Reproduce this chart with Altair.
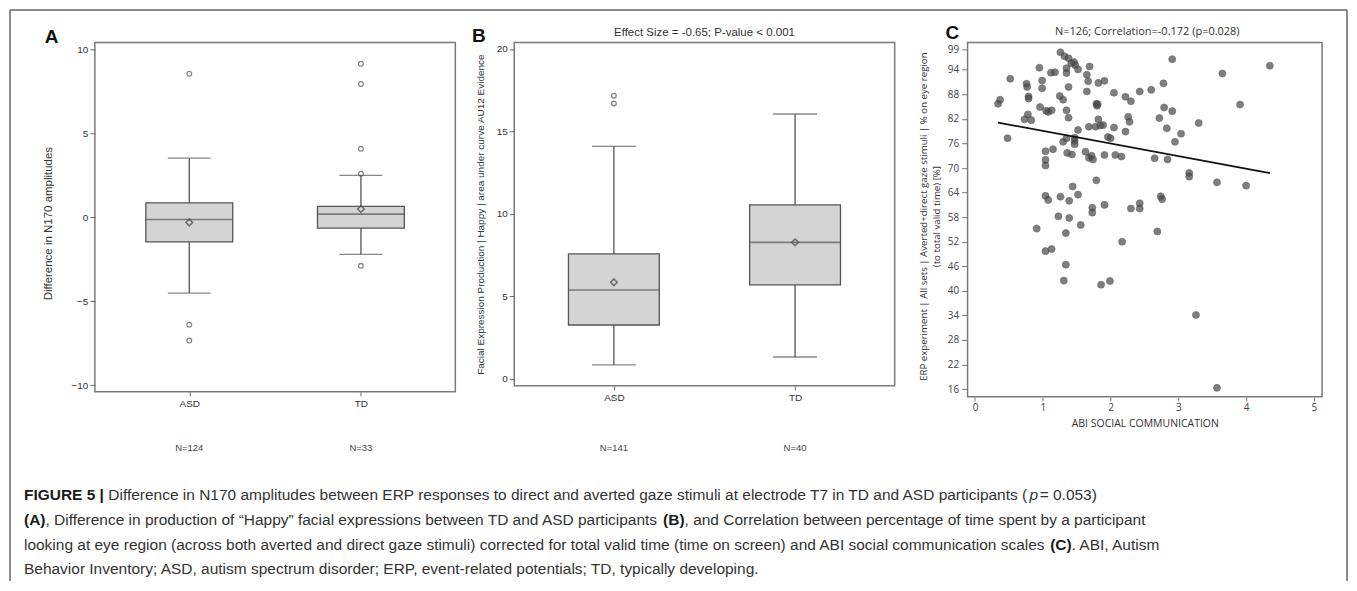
import altair as alt
import pandas as pd

# ---------------- data ----------------
groups = ["ASD", "TD"]

# Panel A: N170 amplitude difference (box summary)
a_q1 = [-1.47, -0.65]
a_med = [-0.14, 0.18]
a_q3 = [0.85, 0.64]
a_lo = [-4.52, -2.22]
a_hi = [3.51, 2.48]
a_mean = [-0.32, 0.48]
a_out_grp = ["ASD", "ASD", "ASD", "TD", "TD", "TD", "TD", "TD"]
a_out_val = [8.53, -6.41, -7.34, 9.13, 7.92, 4.07, 2.58, -2.90]
a_n = ["N=124", "N=33"]

# Panel B: Happy facial expression production
b_q1 = [3.27, 5.70]
b_med = [5.39, 8.28]
b_q3 = [7.58, 10.55]
b_lo = [0.85, 1.33]
b_hi = [14.10, 16.06]
b_mean = [5.86, 8.28]
b_out_grp = ["ASD", "ASD"]
b_out_val = [17.17, 16.70]
b_n = ["N=141", "N=40"]

# Panel C: ABI social communication vs % time on eye region
c_abi = [0.34, 0.37, 0.52, 0.48, 0.73, 0.78, 0.83, 0.76, 0.77, 0.79,
         0.79, 0.95, 0.99, 0.99, 0.96, 1.05, 1.08, 1.13, 1.12, 1.18,
         1.04, 1.04, 1.04, 1.15, 1.26, 1.32, 1.38, 1.46, 1.48, 1.52,
         1.35, 1.35, 1.25, 1.30, 1.38, 1.35, 1.38, 1.30, 1.35, 1.36,
         1.43, 1.47, 1.47, 1.47, 1.52, 1.69, 1.65, 1.67, 1.65, 1.79,
         1.80, 1.81, 1.82, 1.91, 1.68, 1.78, 1.82, 1.85, 1.89, 1.63,
         1.68, 1.72, 1.74, 1.79, 1.91, 1.96, 2.00, 2.05, 2.05, 2.07,
         2.16, 2.22, 2.30, 2.22, 2.26, 2.28, 2.43, 2.60, 2.65, 2.72,
         2.78, 2.79, 2.83, 2.84, 2.91, 2.91, 2.95, 3.04, 3.30, 3.16,
         3.16, 3.57, 3.65, 3.91, 4.00, 4.35, 1.04, 1.08, 1.26, 1.39,
         1.44, 1.52, 1.23, 1.39, 1.73, 1.73, 1.91, 2.30, 2.43, 2.43,
         2.74, 2.76, 0.91, 1.04, 1.13, 1.34, 1.34, 1.31, 1.56, 1.86,
         1.99, 2.17, 2.69, 3.26, 3.57, 1.42]
c_eye = [85.7, 86.7, 91.8, 77.3, 81.9, 83.1, 81.7, 90.6, 89.8, 87.5,
         87.0, 94.5, 91.4, 89.5, 84.9, 84.0, 83.7, 84.1, 93.3, 93.4,
         74.1, 72.0, 70.6, 74.6, 98.3, 97.3, 96.8, 95.9, 95.1, 94.1,
         94.4, 93.2, 87.6, 86.7, 89.8, 84.1, 82.3, 76.4, 77.3, 73.7,
         73.3, 77.4, 76.6, 75.8, 79.3, 94.8, 92.8, 91.2, 88.7, 85.7,
         85.2, 85.6, 90.8, 91.3, 80.1, 80.1, 81.9, 80.4, 80.5, 74.0,
         72.5, 73.0, 72.1, 67.0, 73.2, 77.6, 77.3, 79.9, 88.4, 73.2,
         72.8, 87.4, 86.3, 78.9, 82.5, 81.3, 88.7, 89.1, 72.4, 82.2,
         90.7, 84.8, 79.7, 72.1, 83.9, 96.6, 76.4, 78.4, 81.0, 68.8,
         67.9, 66.5, 93.1, 85.5, 65.7, 95.0, 63.2, 62.2, 63.0, 62.0,
         65.5, 63.5, 58.2, 57.8, 60.3, 59.1, 61.0, 60.1, 61.4, 60.1,
         63.1, 62.4, 55.2, 49.7, 50.2, 54.1, 46.4, 42.5, 56.1, 41.5,
         42.4, 52.0, 54.5, 34.1, 16.3, 95.6]

a_ticks = [-10, -5, 0, 5, 10]
b_ticks = [0, 5, 10, 15, 20]
c_xticks = [0, 1, 2, 3, 4, 5]
c_yticks = [16, 22, 28, 34, 40, 46, 52, 58, 64, 70, 76, 82, 88, 94, 99]

title_b = "Effect Size = -0.65; P-value < 0.001"
title_c = "N=126; Correlation=-0.172 (p=0.028)"
ytitle_a = "Difference in N170 amplitudes"
ytitle_b = "Facial Expression Production | Happy | area under curve AU12 Evidence"
ytitle_c = ["ERP experiment | All sets | Averted+direct gaze stimuli | % on eye region",
            "(to total valid time) [%]"]
xtitle_c = "ABI SOCIAL COMMUNICATION"

# caption: each line is a list of (text, style)
caption = [
    [("FIGURE 5 | ", "bold"),
     ("Difference in N170 amplitudes between ERP responses to direct and averted gaze stimuli at electrode T7 in TD and ASD participants (", "normal"),
     ("p", "italic"), (" = 0.053)", "normal")],
    [("(A)", "bold"),
     (", Difference in production of \u201cHappy\u201d facial expressions between TD and ASD participants ", "normal"),
     ("(B)", "bold"),
     (", and Correlation between percentage of time spent by a participant", "normal")],
    [("looking at eye region (across both averted and direct gaze stimuli) corrected for total valid time (time on screen) and ABI social communication scales ", "normal"),
     ("(C)", "bold"),
     (". ABI, Autism", "normal")],
    [("Behavior Inventory; ASD, autism spectrum disorder; ERP, event-related potentials; TD, typically developing.", "normal")],
]

# ---------------- layout constants ----------------
FONT = "Liberation Sans"
OX, OY = 93, 40.5          # page position of panel A plot origin
A_W, A_H = 361, 350
B_W, B_H = 381, 344
C_W, C_H = 355, 355
GAP_AB, GAP_BC = 59, 73
CAP_X = 22
CAP_FS = 15.5
CAP_BASE = [499, 524, 549, 573]
one = pd.DataFrame({"k": [0]})

# Arial / Liberation Sans advance widths (1/1000 em), used to chain caption segments
_REG = {' ': 278, '!': 278, '"': 355, '%': 889, '&': 667, "'": 191, '(': 333, ')': 333,
        '+': 584, ',': 278, '-': 333, '.': 278, '/': 278, ':': 278, ';': 278, '<': 584,
        '=': 584, '>': 584, '?': 556, '[': 278, ']': 278, '|': 260,
        'A': 667, 'B': 667, 'C': 722, 'D': 722, 'E': 667, 'F': 611, 'G': 778, 'H': 722,
        'I': 278, 'J': 500, 'K': 667, 'L': 556, 'M': 833, 'N': 722, 'O': 778, 'P': 667,
        'Q': 778, 'R': 722, 'S': 667, 'T': 611, 'U': 722, 'V': 667, 'W': 944, 'X': 667,
        'Y': 667, 'Z': 611, 'a': 556, 'b': 556, 'c': 500, 'd': 556, 'e': 556, 'f': 278,
        'g': 556, 'h': 556, 'i': 222, 'j': 222, 'k': 500, 'l': 222, 'm': 833, 'n': 556,
        'o': 556, 'p': 556, 'q': 556, 'r': 333, 's': 500, 't': 278, 'u': 556, 'v': 500,
        'w': 722, 'x': 500, 'y': 500, 'z': 500, '\u201c': 333, '\u201d': 333}
for _d in "0123456789":
    _REG[_d] = 556
_BOLD = {' ': 278, '(': 333, ')': 333, '|': 280, '5': 556, 'A': 722, 'B': 722, 'C': 722,
         'E': 667, 'F': 611, 'G': 778, 'I': 278, 'R': 722, 'U': 722}


def text_w(s, style, fs):
    tab = _BOLD if style == "bold" else _REG
    w = sum(tab.get(ch, 556) for ch in s) * fs / 1000.0
    if style == "italic":
        w += 1.5   # italic overhang
    return w


def txt(s, x, y, size, weight="normal", color="#333", align="left", baseline="alphabetic",
        font=FONT, style="normal"):
    return alt.Chart(one).mark_text(
        text=s, font=font, fontSize=size, fontWeight=weight, fontStyle=style, color=color,
        align=align, baseline=baseline
    ).encode(x=alt.value(x), y=alt.value(y))


def box_panel(q1, med, q3, lo, hi, mean, og, ov, nlab, W, H, ydom, yticks,
              box_w, cap_w, ytitle, ytitle_x, ytitle_y, ytitle_size):
    stats = pd.DataFrame({"grp": groups, "q1": q1, "med": med, "q3": q3,
                          "lo": lo, "hi": hi, "mean": mean, "n": nlab})
    outs = pd.DataFrame({"grp": og, "val": ov})
    xaxis = alt.Axis(title=None, labelAngle=0, labelFont=FONT, labelFontSize=10,
                     labelColor="#333", tickColor="#666", tickSize=4, domain=False,
                     labelPadding=3)
    yaxis = alt.Axis(title=ytitle, values=yticks, labelFont=FONT, labelFontSize=10,
                     labelColor="#333", tickColor="#666", tickSize=5, labelPadding=2,
                     domain=False, grid=False, titleFont=FONT, titleFontSize=ytitle_size,
                     titleFontWeight="normal", titleColor="#333", titleX=ytitle_x,
                     titleY=ytitle_y, titleAngle=270, titleAlign="center",
                     titleBaseline="middle")
    xs = alt.X("grp:N", scale=alt.Scale(type="point", padding=0.55, domain=groups), axis=xaxis)
    ysc = alt.Scale(domain=ydom, nice=False, zero=False)

    def Y(f):
        return alt.Y(f, type="quantitative", scale=ysc, axis=yaxis)

    base = alt.Chart(stats)
    whisk_up = base.mark_rule(color="#555", strokeWidth=1.3).encode(x=xs, y=Y("q3"), y2="hi")
    whisk_dn = base.mark_rule(color="#555", strokeWidth=1.3).encode(x=xs, y=Y("lo"), y2="q1")
    box = base.mark_bar(size=box_w, fill="#d4d4d4", stroke="#555", strokeWidth=1.3).encode(
        x=xs, y=Y("q1"), y2="q3")
    medl = base.mark_tick(size=box_w, thickness=1.6, color="#555").encode(x=xs, y=Y("med"))
    cap_hi = base.mark_tick(size=cap_w, thickness=1.3, color="#555").encode(x=xs, y=Y("hi"))
    cap_lo = base.mark_tick(size=cap_w, thickness=1.3, color="#555").encode(x=xs, y=Y("lo"))
    meanp = base.mark_point(shape="diamond", size=45, filled=False, color="#444",
                            strokeWidth=1.5).encode(x=xs, y=Y("mean"))
    outp = alt.Chart(outs).mark_point(shape="circle", size=22, filled=False, color="#555",
                                      strokeWidth=1.3).encode(x=xs, y=Y("val"))
    nt = base.mark_text(font=FONT, fontSize=9.5, color="#444", baseline="middle").encode(
        x=xs, y=alt.value(406), text="n:N")
    return [whisk_up, whisk_dn, box, medl, cap_hi, cap_lo, meanp, outp, nt]


# ---------------- panel A ----------------
a_layers = box_panel(a_q1, a_med, a_q3, a_lo, a_hi, a_mean, a_out_grp, a_out_val, a_n,
                     A_W, A_H, [-10.4, 10.4], a_ticks, 87, 43, ytitle_a, -46, 181, 11.5)
a_layers.append(txt("A", 42.7 - OX, 41 - OY, 19, "bold", "#111"))

# caption (segments chained with font metrics), placed relative to panel A origin
for segs, base_y in zip(caption, CAP_BASE):
    x = CAP_X
    for s, st in segs:
        a_layers.append(txt(s, x - OX, base_y - OY, CAP_FS,
                            "bold" if st == "bold" else "normal",
                            "#1a1a1a" if st == "bold" else "#333",
                            style="italic" if st == "italic" else "normal"))
        x += text_w(s, st, CAP_FS)

# figure frame
frame_col = "#666"
F_L, F_T, F_R, F_B = 8, 8, 1347, 580
a_layers.append(alt.Chart(one).mark_rule(color=frame_col, strokeWidth=1.5).encode(
    x=alt.value(F_L - OX), x2=alt.value(F_R - OX), y=alt.value(F_T - OY)))
a_layers.append(alt.Chart(one).mark_rule(color=frame_col, strokeWidth=1.5).encode(
    x=alt.value(F_L - OX), y=alt.value(F_T - OY), y2=alt.value(F_B - OY)))
a_layers.append(alt.Chart(one).mark_rule(color=frame_col, strokeWidth=1.5).encode(
    x=alt.value(F_R - OX), y=alt.value(F_T - OY), y2=alt.value(F_B - OY)))

panel_a = alt.layer(*a_layers).properties(width=A_W, height=A_H)

# ---------------- panel B ----------------
b_layers = box_panel(b_q1, b_med, b_q3, b_lo, b_hi, b_mean, b_out_grp, b_out_val, b_n,
                     B_W, B_H, [-0.42, 20.4], b_ticks, 91, 44, ytitle_b, -34, 172, 10)
b_layers.append(txt("B", 470.7 - 513, 0, 19, "bold", "#111"))
b_layers.append(txt(title_b, B_W / 2, -6.5, 11.5, "normal", "#333", align="center"))
panel_b = alt.layer(*b_layers).properties(width=B_W, height=B_H)

# ---------------- panel C ----------------
c_df = pd.DataFrame({"abi": c_abi, "eye": c_eye})
CF = "Open Sans"
cx = alt.X("abi:Q", scale=alt.Scale(domain=[-0.11, 5.12], nice=False, zero=False),
           axis=alt.Axis(values=c_xticks, title=xtitle_c, labelFont=CF, labelFontSize=10,
                         labelColor="#444", tickColor="#777", tickSize=4, labelPadding=2,
                         domain=False, grid=False, titleFont=CF, titleFontSize=10.5,
                         titleFontWeight="normal", titleColor="#333", titlePadding=6))
cy = alt.Y("eye:Q", scale=alt.Scale(domain=[14.1, 100.7], nice=False, zero=False),
           axis=alt.Axis(values=c_yticks, title=ytitle_c, labelFont=CF, labelFontSize=10,
                         labelColor="#444", tickColor="#777", tickSize=6, labelPadding=3,
                         domain=False, grid=False, titleFont=CF, titleFontSize=9.7,
                         titleFontWeight="normal", titleColor="#333", titleX=-44,
                         titleY=174, titleAngle=270, titleAlign="center",
                         titleBaseline="middle", titleLineHeight=13))
pts = alt.Chart(c_df).mark_circle(size=50, color="#4d4d4d", opacity=0.72,
                                  stroke="#333", strokeWidth=0.6).encode(x=cx, y=cy)
reg = alt.Chart(c_df).transform_regression("abi", "eye").mark_line(
    color="#111", strokeWidth=1.8).encode(x=cx, y=cy)
c_layers = [pts, reg,
            txt("C", 945 - 967, -3, 19, "bold", "#111"),
            txt(title_c, 180, -7.5, 11, "normal", "#333", align="center", font=CF)]
panel_c = alt.layer(*c_layers).properties(width=C_W, height=C_H)

inner = alt.hconcat(panel_b, panel_c, spacing=GAP_BC, bounds="flush")
chart = alt.hconcat(panel_a, inner, spacing=GAP_AB, bounds="flush").properties(
    padding=0, background="white"
).configure_view(stroke="#7a7a7a", strokeWidth=1.5)

chart.save("out.html", embed_options={"renderer": "svg", "actions": False})
